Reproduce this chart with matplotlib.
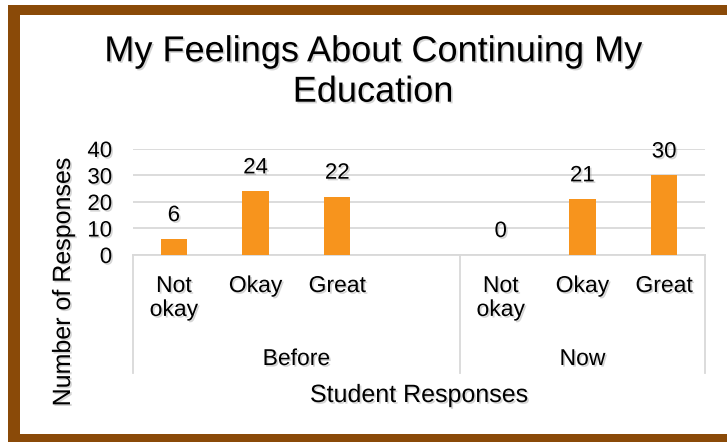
import numpy as np
import matplotlib
matplotlib.use("Agg")
import matplotlib.pyplot as plt
import matplotlib.patheffects as pe
from matplotlib.patches import Rectangle

# chart data
groups = ["Before", "Now"]
categories = ["Not\nokay", "Okay", "Great"]
before_vals = [6, 24, 22]
now_vals = [0, 21, 30]
yticks = [0, 10, 20, 30, 40]

plt.rcParams['font.family'] = ['Liberation Sans', 'DejaVu Sans']

W, H = 727, 442
fig = plt.figure(figsize=(W / 100, H / 100), dpi=100)

def px(x, y):
    # pixel coords (top-left origin) -> figure fraction
    return x / W, 1 - y / H

def strip(x0, y0, x1, y1):
    # brown frame piece given in pixels, top-left origin
    fig.patches.append(Rectangle((x0 / W, 1 - y1 / H), (x1 - x0) / W, (y1 - y0) / H,
                                 transform=fig.transFigure, facecolor="#8A4A08",
                                 edgecolor="none", zorder=-3))

# brown frame: top, left, bottom (right side runs off the picture)
strip(8, 5, W, 15)
strip(8, 5, 20, 442)
strip(8, 434, W, 442)

shadow = [pe.SimplePatchShadow(offset=(1.2, -1.2), shadow_rgbFace="#888888", alpha=0.35), pe.Normal()]

left, right, top, bottom = 133, 705, 149, 255
ax = fig.add_axes([left / W, 1 - bottom / H, (right - left) / W, (bottom - top) / H])
ax.set_zorder(1)
ax.patch.set_visible(False)

# positions: before group has 4 slots (last is empty), now group 3 slots
xb = np.arange(len(before_vals))
xn = np.arange(len(now_vals)) + 4
ax.bar(xb, before_vals, width=0.32, color="#F7941D", zorder=3)
ax.bar(xn, now_vals, width=0.32, color="#F7941D", zorder=3)

for x, v in list(zip(xb, before_vals)) + list(zip(xn, now_vals)):
    ax.annotate(str(v), (x, v), xytext=(0, 18), textcoords="offset pixels",
                ha="center", va="baseline", fontsize=16, path_effects=shadow)

ax.set_xlim(-0.5, 6.5)
ax.set_ylim(0, 40)
ax.set_yticks(yticks)
ax.set_yticklabels([str(t) for t in yticks], fontsize=16)
for lab in ax.get_yticklabels():
    lab.set_path_effects(shadow)
ax.set_xticks([])
ax.tick_params(axis="y", length=0, pad=15)
ax.grid(axis="y", color="#D9D9D9", linewidth=1.3, zorder=0)
for s in ["top", "right", "left"]:
    ax.spines[s].set_visible(False)
ax.spines["bottom"].set_color("#D9D9D9")
ax.spines["bottom"].set_linewidth(1.3)

trans = ax.get_xaxis_transform()
hgt = bottom - top
for xs in [-0.5, 3.5, 6.5]:
    ax.plot([xs, xs], [0, -(373 - bottom) / hgt], transform=trans, color="#D9D9D9",
            linewidth=1.3, clip_on=False)

for xpos in [xb, xn]:
    for x, c in zip(xpos, categories):
        ax.text(x, -(274 - bottom) / hgt, c, transform=trans, ha="center", va="top",
                fontsize=16.5, linespacing=1.05, path_effects=shadow)

for xc, g in zip([1.5, 5], groups):
    ax.text(xc, -(365 - bottom) / hgt, g, transform=trans, ha="center", va="baseline",
            fontsize=16.5, path_effects=shadow)

fig.text(*px(63, 282), "Number of Responses", rotation=90, ha="center", va="center",
         fontsize=18, path_effects=shadow)
fig.text(*px(419, 402), "Student Responses", ha="center", va="baseline",
         fontsize=18, path_effects=shadow)
fig.text(*px(373, 72), "My Feelings About Continuing My\nEducation", ha="center", va="center",
         fontsize=26, linespacing=1.2, path_effects=shadow)

fig.savefig("out.png", dpi=100)
